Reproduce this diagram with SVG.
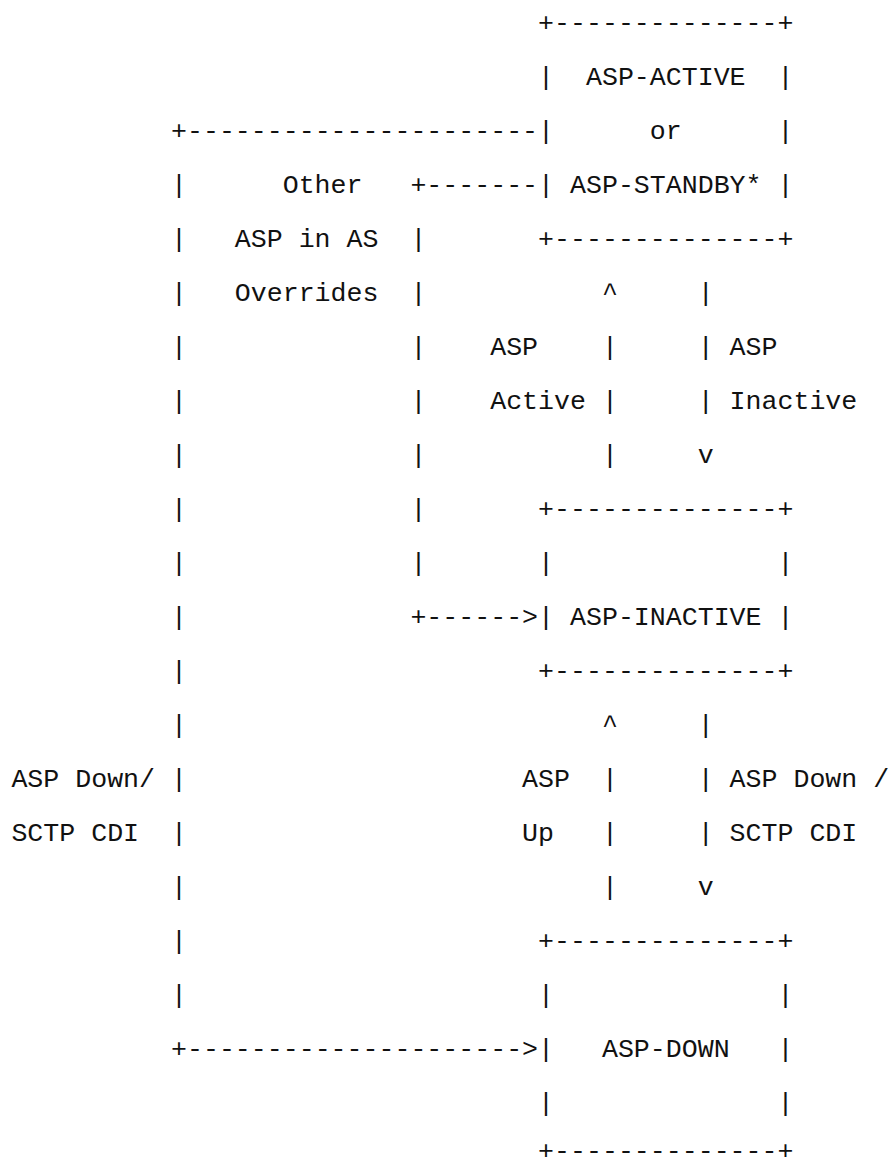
<svg xmlns="http://www.w3.org/2000/svg" width="891" height="1168" viewBox="0 0 891 1168" xml:space="preserve">
<style>
text { font-family: "Liberation Mono", "Courier New", monospace; font-size: 26.6px; fill: #111; white-space: pre; }
</style>
<rect width="891" height="1168" fill="#fff"/>
<g transform="translate(0,3)">
<g id="asp-active">
<text x="538.1" y="28">+--------------+</text>
<text x="538.1" y="82">|  ASP-ACTIVE  |</text>
<text x="538.1" y="136">|      or      |</text>
<text x="538.1" y="190">| ASP-STANDBY* |</text>
<text x="538.1" y="244">+--------------+</text>
</g>
<g id="asp-inactive">
<text x="538.1" y="514">+--------------+</text>
<text x="538.1" y="568">|              |</text>
<text x="538.1" y="622">| ASP-INACTIVE |</text>
<text x="538.1" y="676">+--------------+</text>
</g>
<g id="asp-down">
<text x="538.1" y="946">+--------------+</text>
<text x="538.1" y="1000">|              |</text>
<text x="538.1" y="1054">|   ASP-DOWN   |</text>
<text x="538.1" y="1108">|              |</text>
<text x="538.1" y="1156">+--------------+</text>
</g>
<g id="connectors">
<text x="171.0" y="136">+----------------------</text>
<text x="171.0" y="190">|</text>
<text x="410.4" y="190">+-------</text>
<text x="171.0" y="244">|</text><text x="410.4" y="244">|</text>
<text x="171.0" y="298">|</text><text x="410.4" y="298">|</text><text x="601.9" y="298">^</text><text x="697.7" y="298">|</text>
<text x="171.0" y="352">|</text><text x="410.4" y="352">|</text><text x="601.9" y="352">|</text><text x="697.7" y="352">|</text>
<text x="171.0" y="406">|</text><text x="410.4" y="406">|</text><text x="601.9" y="406">|</text><text x="697.7" y="406">|</text>
<text x="171.0" y="460">|</text><text x="410.4" y="460">|</text><text x="601.9" y="460">|</text><text x="697.7" y="460">v</text>
<text x="171.0" y="514">|</text><text x="410.4" y="514">|</text>
<text x="171.0" y="568">|</text><text x="410.4" y="568">|</text>
<text x="171.0" y="622">|</text>
<text x="410.4" y="622">+------&gt;</text>
<text x="171.0" y="676">|</text>
<text x="171.0" y="730">|</text><text x="601.9" y="730">^</text><text x="697.7" y="730">|</text>
<text x="171.0" y="784">|</text><text x="601.9" y="784">|</text><text x="697.7" y="784">|</text>
<text x="171.0" y="838">|</text><text x="601.9" y="838">|</text><text x="697.7" y="838">|</text>
<text x="171.0" y="892">|</text><text x="601.9" y="892">|</text><text x="697.7" y="892">v</text>
<text x="171.0" y="946">|</text>
<text x="171.0" y="1000">|</text>
<text x="171.0" y="1054">+---------------------&gt;</text>
</g>
<g id="labels">
<text x="282.7" y="190">Other</text>
<text x="234.8" y="244">ASP in AS</text>
<text x="234.8" y="298">Overrides</text>
<text x="490.2" y="352">ASP</text>
<text x="490.2" y="406">Active</text>
<text x="729.6" y="352">ASP</text>
<text x="729.6" y="406">Inactive</text>
<text x="11.4" y="784">ASP Down/</text>
<text x="11.4" y="838">SCTP CDI</text>
<text x="522.1" y="784">ASP</text>
<text x="522.1" y="838">Up</text>
<text x="729.6" y="784">ASP Down /</text>
<text x="729.6" y="838">SCTP CDI</text>
</g>
</g>
</svg>
